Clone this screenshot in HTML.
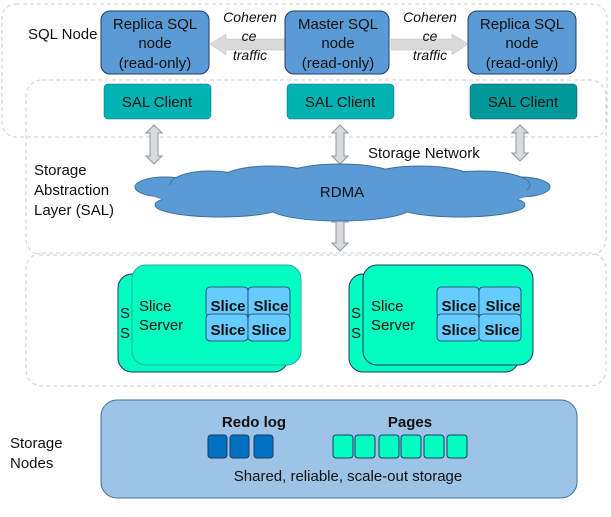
<!DOCTYPE html>
<html><head><style>body{margin:0;background:#fff}svg{display:block;font-family:"Liberation Sans",sans-serif}</style></head><body>
<svg width="611" height="517" viewBox="0 0 611 517" xmlns="http://www.w3.org/2000/svg">
<g fill="none" stroke="#cfcfcf" stroke-dasharray="4,3">
<rect x="2" y="4" width="605" height="133" rx="14"/>
<rect x="26" y="80" width="580" height="175" rx="16"/>
<rect x="26" y="253" width="580" height="133" rx="16"/>
</g>
<g fill="#dadada" stroke="#bbb" stroke-width="0.5">
<polygon points="210,44 226,34 226,39 287,39 287,50 226,50 226,55"/>
<polygon points="468,44 452,34 452,39 391,39 391,50 452,50 452,55"/>
</g>
<g fill="#5b9bd5" stroke="#1f3864" stroke-width="1">
<rect x="101" y="11" width="108" height="63" rx="9"/>
<rect x="285" y="11" width="104" height="63" rx="9"/>
<rect x="468" y="11" width="108" height="63" rx="9"/>
</g>
<g font-size="15" fill="#111" text-anchor="middle">
<text x="155" y="29">Replica SQL</text><text x="155" y="48">node</text><text x="155" y="68">(read-only)</text>
<text x="338" y="29">Master  SQL</text><text x="338" y="48">node</text><text x="338" y="68">(read-only)</text>
<text x="522" y="29">Replica SQL</text><text x="522" y="48">node</text><text x="522" y="68">(read-only)</text>
</g>
<g font-size="14" font-style="italic" fill="#111" text-anchor="middle">
<text x="250" y="22">Coheren</text><text x="249" y="41">ce</text><text x="250" y="60">traffic</text>
<text x="430" y="22">Coheren</text><text x="430" y="41">ce</text><text x="430" y="60">traffic</text>
</g>
<text x="28" y="39" font-size="15" fill="#111">SQL Node</text>
<g fill="#00b3b3" stroke="#0a6b6b" stroke-width="0.5">
<rect x="104" y="84" width="107" height="35" rx="4"/>
<rect x="287" y="84" width="107" height="35" rx="4"/>
<rect x="470" y="84" width="107" height="35" rx="4" fill="#009999" stroke="#1f3864"/>
</g>
<g font-size="15" fill="#111" text-anchor="middle">
<text x="157" y="107">SAL Client</text><text x="340" y="107">SAL Client</text><text x="523" y="107">SAL Client</text>
</g>
<g fill="#dadada" stroke="#8796a8" stroke-width="1">
<polygon points="154,125 162,133 158,133 158,156 162,156 154,164 146,156 150,156 150,133 146,133"/>
<polygon points="340,125 348,133 344,133 344,156 348,156 340,164 332,156 336,156 336,133 332,133"/>
<polygon points="520,125 528,133 524,133 524,153 528,153 520,161 512,153 516,153 516,133 512,133"/>
<polygon points="340,214 348,222 344,222 344,243 348,243 340,251 332,243 336,243 336,222 332,222"/>
</g>
<text x="368" y="158" font-size="15" fill="#111">Storage Network</text>
<g fill="#5b9bd5" stroke="#41719c" stroke-width="1">
<ellipse cx="165" cy="187" rx="30" ry="10"/>
<ellipse cx="520" cy="187" rx="30" ry="10"/>
<ellipse cx="210" cy="185" rx="40" ry="14"/>
<ellipse cx="270" cy="180" rx="50" ry="14"/>
<ellipse cx="340" cy="176" rx="55" ry="12"/>
<ellipse cx="420" cy="180" rx="55" ry="14"/>
<ellipse cx="480" cy="185" rx="50" ry="14"/>
<ellipse cx="220" cy="205" rx="65" ry="12"/>
<ellipse cx="340" cy="208" rx="70" ry="13"/>
<ellipse cx="460" cy="205" rx="65" ry="12"/>
</g>
<g fill="#5b9bd5">
<ellipse cx="340" cy="193" rx="190" ry="18"/>
<ellipse cx="210" cy="185" rx="39" ry="13"/>
<ellipse cx="270" cy="180" rx="49" ry="13"/>
<ellipse cx="340" cy="176" rx="54" ry="11"/>
<ellipse cx="420" cy="180" rx="54" ry="13"/>
<ellipse cx="480" cy="185" rx="49" ry="13"/>
<ellipse cx="220" cy="205" rx="64" ry="11"/>
<ellipse cx="340" cy="208" rx="69" ry="12"/>
<ellipse cx="460" cy="205" rx="64" ry="11"/>
</g>
<text x="342" y="197" font-size="15" fill="#111" text-anchor="middle">RDMA</text>
<g font-size="15" fill="#111"><text x="34" y="175">Storage</text><text x="34" y="195">Abstraction</text><text x="34" y="215">Layer (SAL)</text></g>
<g stroke="#1f3864" stroke-width="1">
<rect x="118" y="274" width="170" height="98" rx="14" fill="#00ffc0"/>
<rect x="349" y="274" width="170" height="98" rx="14" fill="#00ffc0"/>
</g>
<g font-size="15" fill="#111"><text x="120" y="318">S</text><text x="120" y="338">S</text><text x="351" y="318">S</text><text x="351" y="338">S</text></g>
<g stroke="#1f3864" stroke-width="1">
<rect x="132" y="265" width="169" height="100" rx="14" fill="#00ffc0" stroke="#2aa"/>
<rect x="363" y="265" width="170" height="100" rx="14" fill="#00ffc0"/>
</g>
<g fill="#66ccff" stroke="#1f3864" stroke-width="0.8">
<rect x="206" y="287" width="42" height="30" rx="4"/><rect x="248" y="287" width="42" height="30" rx="4"/>
<rect x="206" y="314" width="42" height="27" rx="4"/><rect x="248" y="314" width="42" height="27" rx="4"/>
<rect x="437" y="287" width="42" height="30" rx="4"/><rect x="479" y="287" width="42" height="30" rx="4"/>
<rect x="437" y="314" width="42" height="27" rx="4"/><rect x="479" y="314" width="42" height="27" rx="4"/>
</g>
<g font-size="15" font-weight="bold" fill="#111" text-anchor="middle">
<text x="228" y="311">Slice</text><text x="271" y="311">Slice</text><text x="228" y="335">Slice</text><text x="269" y="335">Slice</text>
<text x="459" y="311">Slice</text><text x="503" y="311">Slice</text><text x="459" y="335">Slice</text><text x="502" y="335">Slice</text>
</g>
<g font-size="15" fill="#111">
<text x="139" y="311">Slice</text><text x="139" y="330">Server</text>
<text x="371" y="311">Slice</text><text x="371" y="330">Server</text>
</g>
<rect x="101" y="400" width="476" height="98" rx="16" fill="#9dc3e6" stroke="#41719c"/>
<g font-size="15" font-weight="bold" fill="#111" text-anchor="middle"><text x="254" y="427">Redo log</text><text x="410" y="427">Pages</text></g>
<g fill="#0070c0" stroke="#1f3864"><rect x="208" y="435" width="19" height="23" rx="3"/><rect x="230" y="435" width="19" height="23" rx="3"/><rect x="254" y="435" width="19" height="23" rx="3"/></g>
<g fill="#00ffc0" stroke="#1f3864"><rect x="333" y="435" width="20" height="23" rx="3"/><rect x="355" y="435" width="20" height="23" rx="3"/><rect x="379" y="435" width="20" height="23" rx="3"/><rect x="401" y="435" width="20" height="23" rx="3"/><rect x="424" y="435" width="20" height="23" rx="3"/><rect x="447" y="435" width="20" height="23" rx="3"/></g>
<text x="348" y="481" font-size="15" fill="#111" text-anchor="middle">Shared, reliable, scale-out storage</text>
<g font-size="15" fill="#111"><text x="10" y="448">Storage</text><text x="10" y="468">Nodes</text></g>
</svg>
</body></html>
